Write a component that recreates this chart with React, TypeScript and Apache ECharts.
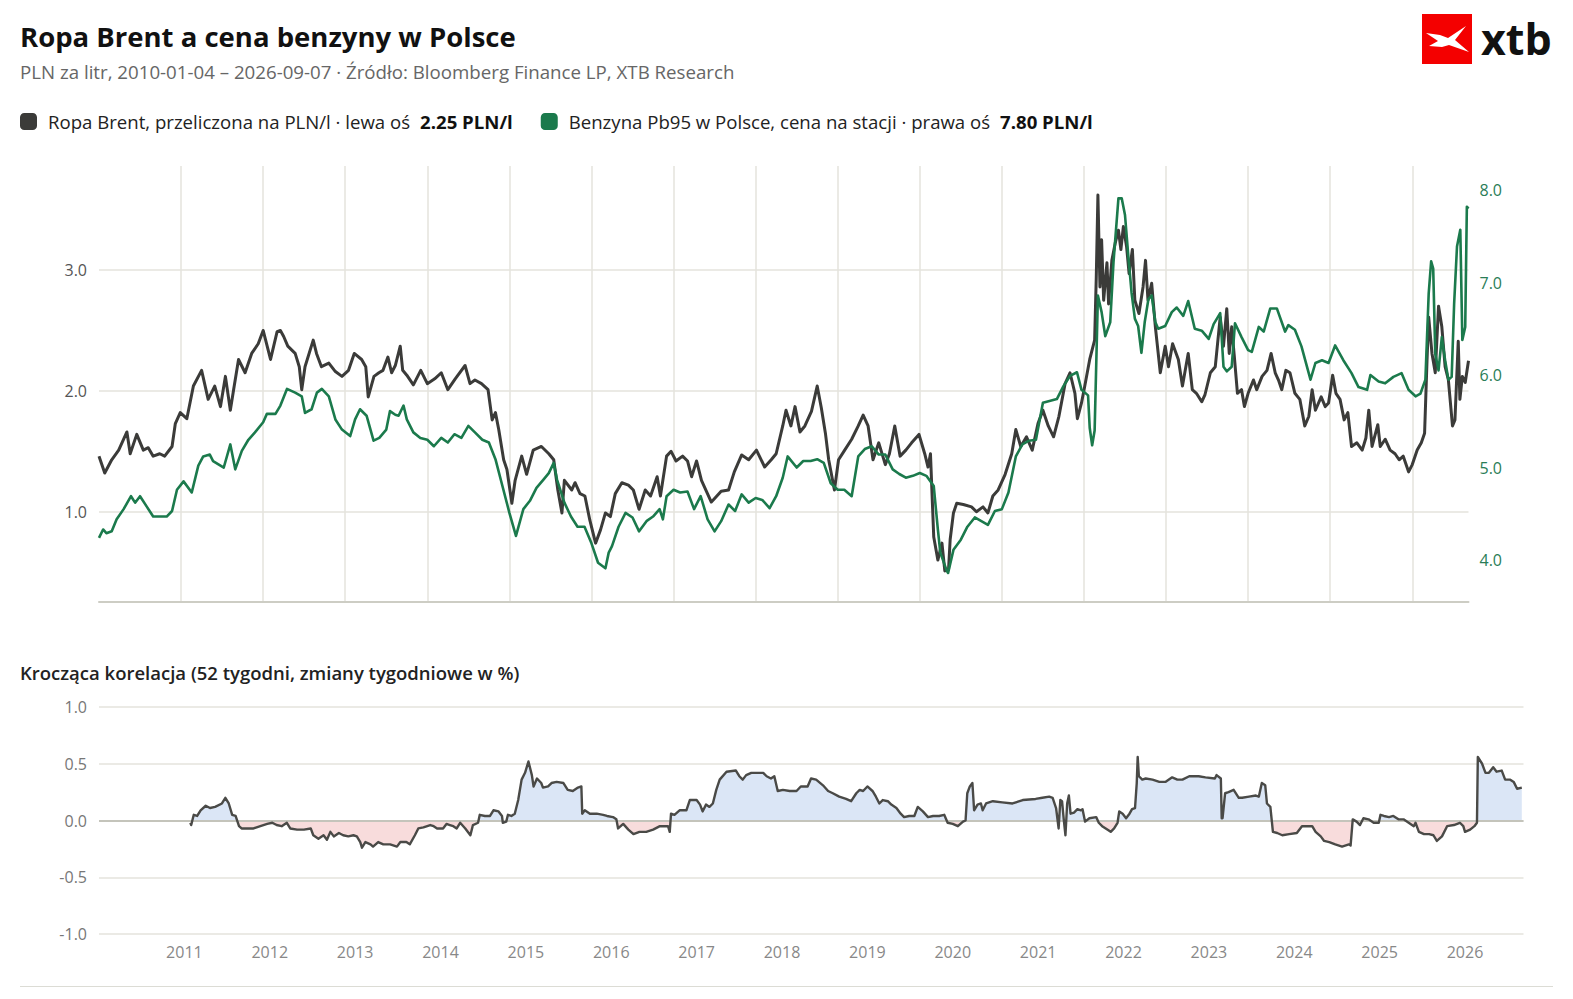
import React, { useEffect, useRef } from "react";
import * as echarts from "echarts";

type Pt = [number, number];

const FONT = "'Open Sans', 'Noto Sans', sans-serif";

const brentName = "Ropa Brent, przeliczona na PLN/l";
const pb95Name = "Benzyna Pb95 w Polsce, cena na stacji";
const titleText = "Ropa Brent a cena benzyny w Polsce";
const subtitleText = "PLN za litr, 2010-01-04 – 2026-09-07 · Źródło: Bloomberg Finance LP, XTB Research";
const corrTitle = "Krocząca korelacja (52 tygodni, zmiany tygodniowe w %)";

// x = decimal year, y = PLN per litre (left axis)
const brent: Pt[] = [
  [2010.00,1.46],[2010.07,1.32],[2010.155,1.43],[2010.24,1.51],[2010.34,1.66],[2010.38,1.48],[2010.46,1.64],[2010.54,1.51],[2010.60,1.53],[2010.66,1.46],[2010.74,1.48],[2010.80,1.46],[2010.89,1.54],[2010.93,1.73],[2010.99,1.82],
  [2011.07,1.77],[2011.15,2.04],[2011.25,2.17],[2011.33,1.93],[2011.41,2.04],[2011.48,1.87],[2011.54,2.12],[2011.60,1.84],[2011.64,2.01],[2011.70,2.26],[2011.78,2.15],[2011.86,2.31],[2011.94,2.39],
  [2012.00,2.50],[2012.09,2.26],[2012.17,2.49],[2012.21,2.50],[2012.25,2.45],[2012.30,2.37],[2012.39,2.31],[2012.44,2.20],[2012.47,2.01],[2012.51,2.20],[2012.61,2.42],[2012.65,2.31],[2012.71,2.20],[2012.80,2.23],[2012.88,2.16],[2012.96,2.12],
  [2013.04,2.17],[2013.11,2.31],[2013.20,2.26],[2013.25,2.20],[2013.28,1.95],[2013.35,2.12],[2013.41,2.15],[2013.46,2.17],[2013.52,2.28],[2013.565,2.15],[2013.61,2.21],[2013.67,2.37],[2013.70,2.17],[2013.75,2.13],[2013.83,2.05],[2013.92,2.17],
  [2014.00,2.06],[2014.09,2.10],[2014.17,2.15],[2014.25,2.01],[2014.34,2.10],[2014.46,2.21],[2014.52,2.06],[2014.58,2.09],[2014.66,2.06],[2014.74,2.01],[2014.79,1.76],[2014.83,1.82],[2014.87,1.68],[2014.93,1.43],[2014.97,1.35],
  [2015.03,1.07],[2015.07,1.26],[2015.15,1.46],[2015.21,1.31],[2015.29,1.51],[2015.39,1.54],[2015.48,1.48],[2015.54,1.43],[2015.59,1.18],[2015.64,0.99],[2015.67,1.26],[2015.76,1.18],[2015.80,1.24],[2015.86,1.15],[2015.92,1.13],[2015.98,0.93],
  [2016.05,0.74],[2016.11,0.85],[2016.17,0.99],[2016.23,0.96],[2016.29,1.15],[2016.37,1.24],[2016.45,1.22],[2016.51,1.18],[2016.58,1.02],[2016.655,1.18],[2016.72,1.13],[2016.80,1.29],[2016.84,1.13],[2016.915,1.46],[2016.97,1.50],
  [2017.03,1.42],[2017.11,1.46],[2017.17,1.42],[2017.22,1.29],[2017.28,1.42],[2017.34,1.26],[2017.46,1.08],[2017.50,1.11],[2017.58,1.17],[2017.67,1.18],[2017.74,1.33],[2017.83,1.47],[2017.915,1.43],
  [2018.01,1.51],[2018.11,1.37],[2018.19,1.43],[2018.25,1.48],[2018.33,1.71],[2018.37,1.84],[2018.43,1.71],[2018.48,1.87],[2018.54,1.66],[2018.60,1.71],[2018.68,1.83],[2018.75,2.04],[2018.80,1.86],[2018.85,1.65],[2018.89,1.43],[2018.96,1.18],
  [2019.01,1.43],[2019.085,1.51],[2019.17,1.60],[2019.25,1.71],[2019.31,1.80],[2019.37,1.71],[2019.43,1.43],[2019.50,1.57],[2019.58,1.39],[2019.63,1.48],[2019.695,1.71],[2019.76,1.46],[2019.83,1.51],[2019.90,1.57],[2019.99,1.64],
  [2020.06,1.48],[2020.10,1.37],[2020.13,1.48],[2020.17,0.79],[2020.22,0.60],[2020.27,0.74],[2020.305,0.51],[2020.35,0.52],[2020.37,0.77],[2020.41,0.99],[2020.45,1.07],[2020.53,1.06],[2020.63,1.04],[2020.69,1.00],[2020.77,1.04],[2020.83,0.99],[2020.89,1.13],[2020.955,1.18],
  [2021.04,1.31],[2021.12,1.48],[2021.17,1.68],[2021.23,1.54],[2021.30,1.62],[2021.37,1.51],[2021.44,1.73],[2021.50,1.84],[2021.565,1.71],[2021.63,1.62],[2021.695,1.79],[2021.77,2.06],[2021.83,2.15],[2021.89,1.98],[2021.92,1.77],[2021.97,1.90],
  [2022.01,2.04],[2022.07,2.26],[2022.13,2.42],[2022.15,2.94],[2022.17,3.62],[2022.195,2.86],[2022.215,3.25],[2022.24,2.75],[2022.28,3.06],[2022.30,2.72],[2022.34,3.08],[2022.38,3.22],[2022.42,3.33],[2022.45,3.17],[2022.48,3.36],[2022.52,3.19],[2022.55,2.97],[2022.59,3.17],[2022.62,2.75],[2022.67,2.64],[2022.72,2.86],[2022.75,3.08],[2022.78,2.75],[2022.825,2.89],[2022.87,2.53],[2022.93,2.15],[2022.99,2.37],
  [2023.03,2.20],[2023.08,2.39],[2023.15,2.26],[2023.20,2.04],[2023.27,2.31],[2023.32,2.01],[2023.37,1.98],[2023.435,1.91],[2023.475,1.97],[2023.54,2.15],[2023.60,2.20],[2023.66,2.61],[2023.70,2.37],[2023.74,2.68],[2023.77,2.31],[2023.80,2.53],[2023.83,2.30],[2023.87,1.98],[2023.92,2.01],[2023.955,1.87],
  [2024.00,1.98],[2024.065,2.09],[2024.105,2.01],[2024.17,2.12],[2024.23,2.17],[2024.28,2.31],[2024.33,2.15],[2024.37,2.09],[2024.41,2.01],[2024.46,2.17],[2024.51,2.15],[2024.57,1.98],[2024.63,1.93],[2024.69,1.71],[2024.74,1.79],[2024.78,2.01],[2024.82,1.84],[2024.89,1.95],[2024.94,1.87],[2024.98,1.90],
  [2025.03,2.13],[2025.07,1.98],[2025.12,1.93],[2025.17,1.76],[2025.215,1.82],[2025.26,1.54],[2025.325,1.57],[2025.39,1.51],[2025.435,1.61],[2025.47,1.84],[2025.51,1.54],[2025.58,1.72],[2025.61,1.54],[2025.67,1.60],[2025.73,1.51],[2025.79,1.48],[2025.84,1.43],[2025.89,1.46],[2025.955,1.33],
  [2026.00,1.39],[2026.06,1.51],[2026.11,1.57],[2026.15,1.65],[2026.18,2.26],[2026.20,2.61],[2026.24,2.31],[2026.28,2.15],[2026.32,2.70],[2026.36,2.53],[2026.40,2.20],[2026.44,2.09],[2026.49,1.71],[2026.52,1.76],[2026.56,2.41],[2026.58,1.93],[2026.61,2.12],[2026.645,2.07],[2026.685,2.25],
];

// x = decimal year, y = PLN per litre (right axis)
const pb95: Pt[] = [
  [2010.00,4.24],[2010.05,4.33],[2010.09,4.29],[2010.155,4.31],[2010.215,4.44],[2010.30,4.55],[2010.39,4.69],[2010.44,4.62],[2010.50,4.69],[2010.58,4.58],[2010.66,4.47],[2010.74,4.47],[2010.825,4.47],[2010.89,4.53],[2010.95,4.76],
  [2011.03,4.85],[2011.13,4.73],[2011.21,5.02],[2011.27,5.12],[2011.35,5.14],[2011.39,5.07],[2011.52,5.00],[2011.60,5.25],[2011.66,4.98],[2011.74,5.18],[2011.82,5.30],[2011.90,5.38],
  [2012.00,5.49],[2012.045,5.58],[2012.15,5.58],[2012.21,5.67],[2012.29,5.85],[2012.39,5.81],[2012.47,5.77],[2012.51,5.59],[2012.59,5.63],[2012.655,5.81],[2012.715,5.85],[2012.80,5.77],[2012.88,5.52],[2012.96,5.41],
  [2013.06,5.34],[2013.12,5.52],[2013.18,5.63],[2013.26,5.56],[2013.345,5.29],[2013.415,5.32],[2013.50,5.41],[2013.545,5.61],[2013.61,5.57],[2013.65,5.56],[2013.71,5.67],[2013.75,5.52],[2013.83,5.38],[2013.915,5.32],
  [2014.00,5.30],[2014.08,5.23],[2014.17,5.32],[2014.25,5.27],[2014.33,5.36],[2014.415,5.32],[2014.50,5.45],[2014.58,5.38],[2014.67,5.30],[2014.75,5.27],[2014.83,5.09],[2014.915,4.80],
  [2015.00,4.51],[2015.08,4.26],[2015.17,4.55],[2015.25,4.64],[2015.33,4.78],[2015.415,4.87],[2015.48,4.94],[2015.54,5.05],[2015.58,4.87],[2015.67,4.62],[2015.75,4.47],[2015.83,4.36],[2015.915,4.36],
  [2016.00,4.18],[2016.08,3.97],[2016.17,3.91],[2016.21,4.08],[2016.25,4.15],[2016.33,4.36],[2016.415,4.51],[2016.50,4.46],[2016.58,4.31],[2016.67,4.42],[2016.75,4.47],[2016.83,4.55],[2016.87,4.44],[2016.915,4.69],
  [2017.00,4.76],[2017.08,4.73],[2017.17,4.74],[2017.25,4.55],[2017.33,4.69],[2017.415,4.44],[2017.50,4.31],[2017.58,4.42],[2017.67,4.60],[2017.75,4.53],[2017.83,4.71],[2017.915,4.62],
  [2018.00,4.67],[2018.08,4.65],[2018.17,4.56],[2018.25,4.69],[2018.33,4.89],[2018.39,5.12],[2018.50,5.00],[2018.58,5.07],[2018.67,5.07],[2018.75,5.09],[2018.83,5.05],[2018.915,4.83],
  [2019.00,4.76],[2019.08,4.76],[2019.17,4.69],[2019.25,5.12],[2019.33,5.20],[2019.415,5.23],[2019.50,5.14],[2019.58,5.14],[2019.67,4.98],[2019.75,4.93],[2019.83,4.89],[2019.915,4.91],
  [2020.00,4.94],[2020.08,4.91],[2020.17,4.80],[2020.22,4.33],[2020.25,4.08],[2020.33,3.88],[2020.345,3.86],[2020.41,4.11],[2020.50,4.22],[2020.58,4.36],[2020.67,4.46],[2020.75,4.42],[2020.83,4.38],[2020.915,4.53],
  [2021.00,4.55],[2021.08,4.73],[2021.17,5.12],[2021.25,5.25],[2021.33,5.29],[2021.415,5.30],[2021.50,5.70],[2021.58,5.72],[2021.67,5.74],[2021.75,5.88],[2021.83,5.99],[2021.915,6.03],[2021.97,5.84],
  [2022.05,5.78],[2022.07,5.43],[2022.10,5.24],[2022.13,5.40],[2022.17,6.86],[2022.215,6.68],[2022.26,6.42],[2022.32,6.57],[2022.36,7.22],[2022.42,7.91],[2022.46,7.91],[2022.50,7.73],[2022.54,7.29],[2022.58,6.89],[2022.62,6.61],[2022.66,6.53],[2022.70,6.24],[2022.74,6.57],[2022.785,6.82],[2022.825,6.86],[2022.87,6.57],[2022.905,6.50],[2022.99,6.53],
  [2023.07,6.68],[2023.13,6.73],[2023.21,6.64],[2023.27,6.80],[2023.35,6.50],[2023.435,6.48],[2023.52,6.39],[2023.58,6.55],[2023.66,6.67],[2023.70,6.09],[2023.74,6.04],[2023.80,6.09],[2023.84,6.56],[2023.92,6.41],
  [2024.00,6.27],[2024.045,6.25],[2024.13,6.52],[2024.19,6.47],[2024.27,6.72],[2024.35,6.72],[2024.45,6.47],[2024.49,6.54],[2024.57,6.49],[2024.65,6.31],[2024.76,5.95],[2024.82,6.13],[2024.90,6.16],[2024.98,6.13],
  [2025.06,6.32],[2025.16,6.16],[2025.26,6.02],[2025.345,5.87],[2025.45,5.84],[2025.49,6.00],[2025.59,5.93],[2025.67,5.91],[2025.77,5.98],[2025.87,6.02],[2025.955,5.84],
  [2026.04,5.77],[2026.10,5.80],[2026.16,5.95],[2026.20,6.88],[2026.23,7.23],[2026.255,7.15],[2026.28,6.23],[2026.32,6.05],[2026.36,6.41],[2026.40,6.16],[2026.44,5.95],[2026.48,5.98],[2026.51,6.77],[2026.545,7.39],[2026.585,7.57],[2026.61,6.38],[2026.645,6.52],[2026.665,7.82],[2026.685,7.80],
];

// x = decimal year, y = rolling 52-week correlation
const corr: Pt[] = [
  [2011.07,-0.02],[2011.08,-0.04],[2011.11,0.05],[2011.15,0.04],[2011.19,0.09],[2011.25,0.13],[2011.30,0.11],[2011.36,0.12],[2011.44,0.15],[2011.48,0.20],[2011.52,0.15],[2011.56,0.05],[2011.60,0.04],[2011.64,-0.05],[2011.67,-0.07],[2011.73,-0.07],[2011.81,-0.07],[2011.89,-0.05],[2011.97,-0.03],
  [2012.03,-0.02],[2012.08,-0.04],[2012.14,-0.05],[2012.20,-0.02],[2012.24,-0.07],[2012.32,-0.08],[2012.40,-0.08],[2012.48,-0.07],[2012.51,-0.13],[2012.57,-0.16],[2012.63,-0.13],[2012.67,-0.17],[2012.71,-0.10],[2012.75,-0.14],[2012.81,-0.11],[2012.86,-0.13],[2012.92,-0.14],[2012.98,-0.13],
  [2013.02,-0.14],[2013.06,-0.19],[2013.08,-0.24],[2013.12,-0.19],[2013.18,-0.21],[2013.21,-0.23],[2013.27,-0.19],[2013.33,-0.21],[2013.41,-0.21],[2013.49,-0.23],[2013.53,-0.19],[2013.60,-0.19],[2013.64,-0.21],[2013.70,-0.13],[2013.74,-0.07],[2013.80,-0.06],[2013.88,-0.04],[2013.92,-0.05],[2013.96,-0.07],
  [2014.03,-0.07],[2014.07,-0.03],[2014.11,-0.04],[2014.15,-0.05],[2014.19,-0.07],[2014.23,-0.02],[2014.29,-0.07],[2014.35,-0.13],[2014.38,-0.04],[2014.44,-0.02],[2014.46,0.05],[2014.52,0.04],[2014.58,0.04],[2014.62,0.09],[2014.68,0.08],[2014.72,0.04],[2014.73,-0.02],[2014.77,-0.01],[2014.79,0.05],[2014.83,0.04],[2014.87,0.06],[2014.91,0.18],[2014.95,0.36],[2014.99,0.42],
  [2015.03,0.52],[2015.07,0.40],[2015.09,0.30],[2015.13,0.37],[2015.18,0.33],[2015.20,0.29],[2015.26,0.30],[2015.30,0.33],[2015.36,0.34],[2015.44,0.33],[2015.49,0.27],[2015.55,0.26],[2015.61,0.29],[2015.65,0.30],[2015.66,0.06],[2015.69,0.09],[2015.75,0.06],[2015.83,0.06],[2015.905,0.05],[2015.95,0.04],
  [2016.02,0.03],[2016.06,0.01],[2016.08,-0.07],[2016.14,-0.03],[2016.20,-0.08],[2016.26,-0.12],[2016.33,-0.10],[2016.41,-0.10],[2016.49,-0.08],[2016.57,-0.05],[2016.63,-0.05],[2016.665,-0.05],[2016.685,-0.10],[2016.70,0.06],[2016.74,0.05],[2016.80,0.09],[2016.88,0.09],[2016.92,0.18],
  [2017.00,0.18],[2017.04,0.14],[2017.07,0.08],[2017.11,0.14],[2017.15,0.12],[2017.19,0.15],[2017.23,0.27],[2017.27,0.36],[2017.35,0.43],[2017.46,0.44],[2017.50,0.39],[2017.54,0.36],[2017.58,0.40],[2017.64,0.42],[2017.70,0.42],[2017.78,0.42],[2017.82,0.39],[2017.87,0.37],[2017.91,0.39],[2017.95,0.26],
  [2018.01,0.27],[2018.09,0.26],[2018.17,0.26],[2018.22,0.30],[2018.30,0.30],[2018.34,0.37],[2018.40,0.36],[2018.48,0.31],[2018.54,0.26],[2018.595,0.24],[2018.67,0.21],[2018.75,0.19],[2018.81,0.17],[2018.87,0.24],[2018.91,0.27],[2018.95,0.26],
  [2019.00,0.30],[2019.06,0.26],[2019.10,0.21],[2019.14,0.15],[2019.18,0.18],[2019.24,0.17],[2019.28,0.14],[2019.34,0.11],[2019.39,0.06],[2019.43,0.03],[2019.49,0.04],[2019.55,0.04],[2019.59,0.12],[2019.65,0.08],[2019.71,0.03],[2019.77,0.04],[2019.84,0.04],[2019.90,0.05],[2019.94,-0.02],
  [2020.00,-0.03],[2020.06,-0.05],[2020.12,-0.01],[2020.15,0.00],[2020.17,0.24],[2020.20,0.30],[2020.23,0.33],[2020.25,0.09],[2020.29,0.14],[2020.33,0.15],[2020.35,0.09],[2020.39,0.15],[2020.47,0.17],[2020.58,0.16],[2020.70,0.15],[2020.82,0.18],[2020.97,0.19],
  [2021.05,0.20],[2021.13,0.21],[2021.17,0.20],[2021.21,0.11],[2021.24,-0.07],[2021.26,0.18],[2021.28,0.17],[2021.30,0.01],[2021.32,-0.13],[2021.34,0.15],[2021.36,0.22],[2021.38,0.06],[2021.42,0.07],[2021.46,0.10],[2021.50,0.09],[2021.52,0.10],[2021.55,-0.01],[2021.60,0.02],[2021.68,0.03],[2021.71,-0.02],[2021.75,-0.05],[2021.81,-0.08],[2021.85,-0.10],[2021.89,-0.07],[2021.93,-0.02],[2021.95,0.08],[2021.99,0.06],
  [2022.03,0.02],[2022.07,0.06],[2022.10,0.10],[2022.135,0.11],[2022.155,0.33],[2022.166,0.56],[2022.18,0.39],[2022.22,0.36],[2022.26,0.37],[2022.34,0.36],[2022.42,0.34],[2022.49,0.34],[2022.57,0.38],[2022.63,0.36],[2022.69,0.36],[2022.77,0.39],[2022.88,0.39],[2022.96,0.38],
  [2023.07,0.37],[2023.09,0.40],[2023.14,0.37],[2023.15,0.02],[2023.16,0.02],[2023.19,0.24],[2023.23,0.25],[2023.29,0.27],[2023.35,0.20],[2023.39,0.20],[2023.47,0.21],[2023.55,0.22],[2023.585,0.21],[2023.62,0.33],[2023.66,0.31],[2023.68,0.15],[2023.72,0.12],[2023.75,-0.10],[2023.80,-0.11],[2023.86,-0.13],[2023.94,-0.12],
  [2024.03,-0.11],[2024.09,-0.05],[2024.15,-0.05],[2024.21,-0.05],[2024.25,-0.10],[2024.31,-0.14],[2024.35,-0.18],[2024.41,-0.19],[2024.48,-0.21],[2024.56,-0.23],[2024.64,-0.21],[2024.66,-0.22],[2024.685,0.01],[2024.73,-0.01],[2024.77,-0.04],[2024.81,0.02],[2024.87,0.01],[2024.93,-0.02],[2024.99,-0.02],
  [2025.01,0.05],[2025.05,0.04],[2025.11,0.03],[2025.16,0.04],[2025.22,0.01],[2025.28,0.01],[2025.34,-0.02],[2025.40,-0.05],[2025.42,-0.02],[2025.46,-0.10],[2025.52,-0.12],[2025.58,-0.12],[2025.63,-0.13],[2025.67,-0.18],[2025.73,-0.14],[2025.79,-0.05],[2025.87,-0.04],[2025.94,-0.02],[2025.98,-0.05],
  [2026.00,-0.10],[2026.06,-0.08],[2026.11,-0.05],[2026.14,-0.02],[2026.15,0.56],[2026.20,0.50],[2026.24,0.42],[2026.28,0.42],[2026.33,0.47],[2026.37,0.43],[2026.43,0.44],[2026.47,0.36],[2026.53,0.36],[2026.57,0.34],[2026.61,0.28],[2026.665,0.29],
];

const xStart = 2010.0;
const xEnd = 2026.685;

const COL_BRENT = "#3b3b39";
const COL_PB95 = "#1b7a4c";
const COL_CORR = "#4a4a47";
const COL_GRID = "#e4e3dc";

// split the correlation line into its positive and negative parts for the fills
function splitBySign(data: Pt[]) {
  const pos: Pt[] = [];
  const neg: Pt[] = [];
  for (let i = 0; i < data.length; i++) {
    const [x, y] = data[i];
    if (i > 0) {
      const [px, py] = data[i - 1];
      if ((py > 0 && y < 0) || (py < 0 && y > 0)) {
        const xc = px + (x - px) * (py / (py - y));
        pos.push([xc, 0]);
        neg.push([xc, 0]);
      }
    }
    pos.push([x, Math.max(y, 0)]);
    neg.push([x, Math.min(y, 0)]);
  }
  return { pos, neg };
}

export default function App() {
  const ref = useRef<HTMLDivElement>(null);

  useEffect(() => {
    const el = ref.current;
    if (!el) return;
    const chart = echarts.init(el, undefined, { renderer: "svg" });
    const { pos, neg } = splitBySign(corr);
    const lastBrent = brent[brent.length - 1][1];
    const lastPb = pb95[pb95.length - 1][1];

    const option: any = {
      animation: false,
      backgroundColor: "#ffffff",
      textStyle: { fontFamily: FONT },
      title: [
        {
          text: titleText,
          subtext: subtitleText,
          left: 20,
          top: 21,
          padding: 0,
          itemGap: 9,
          textStyle: { fontFamily: FONT, fontSize: 27.5, fontWeight: "bold", color: "#111111", lineHeight: 30 },
          subtextStyle: { fontFamily: FONT, fontSize: 18.7, color: "#666666", lineHeight: 22 },
        },
        {
          text: corrTitle,
          left: 20,
          top: 661,
          padding: 0,
          textStyle: { fontFamily: FONT, fontSize: 18.5, fontWeight: 600, color: "#222222", lineHeight: 22 },
        },
      ],
      legend: {
        left: 20,
        top: 112,
        padding: 0,
        itemWidth: 17,
        itemHeight: 17,
        itemGap: 28,
        icon: "roundRect",
        selectedMode: false,
        data: [brentName, pb95Name],
        itemStyle: { borderWidth: 0 },
        formatter: (name: string) =>
          name === brentName
            ? `{n|${name} · lewa oś}{v|${lastBrent.toFixed(2)} PLN/l}`
            : `{n|${name} · prawa oś}{v|${lastPb.toFixed(2)} PLN/l}`,
        textStyle: {
          rich: {
            n: { fontFamily: FONT, fontSize: 18.6, color: "#222222", padding: [0, 0, 0, 6] },
            v: { fontFamily: FONT, fontSize: 18.6, fontWeight: "bold", color: "#111111", padding: [0, 0, 0, 10] },
          },
        },
      },
      grid: [
        { left: 99, right: 104.5, top: 166, height: 436 },
        { left: 99, right: 49.5, top: 707, height: 227 },
      ],
      xAxis: [
        {
          type: "value",
          gridIndex: 0,
          min: xStart,
          max: xEnd,
          splitNumber: 16,
          axisLabel: { show: false },
          axisTick: { show: false },
          axisLine: { show: true, onZero: false, lineStyle: { color: "#cdcdc4", width: 2 } },
          splitLine: { show: true, showMinLine: false, showMaxLine: false, lineStyle: { color: COL_GRID, width: 1.5 } },
        },
        {
          type: "value",
          gridIndex: 1,
          min: xStart,
          max: xEnd,
          splitNumber: 16,
          axisLabel: {
            show: true,
            showMinLabel: false,
            showMaxLabel: false,
            color: "#888888",
            fontSize: 16,
            fontFamily: FONT,
            margin: 10,
            formatter: (v: number) => String(Math.round(v)),
          },
          axisTick: { show: false },
          axisLine: { show: false, onZero: false },
          splitLine: { show: false },
        },
      ],
      yAxis: [
        {
          type: "value",
          gridIndex: 0,
          position: "left",
          min: 0.253,
          max: 3.861,
          splitNumber: 4,
          axisLabel: {
            color: "#555555",
            fontSize: 16,
            fontFamily: FONT,
            margin: 12,
            showMinLabel: false,
            showMaxLabel: false,
            formatter: (v: number) => v.toFixed(1),
          },
          axisLine: { show: false },
          axisTick: { show: false },
          splitLine: { show: true, showMinLine: false, showMaxLine: false, lineStyle: { color: COL_GRID, width: 1.5 } },
        },
        {
          type: "value",
          gridIndex: 0,
          position: "right",
          min: 3.546,
          max: 8.26,
          splitNumber: 5,
          axisLabel: {
            color: "#2a7d57",
            fontSize: 16,
            fontFamily: FONT,
            margin: 11,
            showMinLabel: false,
            showMaxLabel: false,
            formatter: (v: number) => v.toFixed(1),
          },
          axisLine: { show: false },
          axisTick: { show: false },
          splitLine: { show: false },
        },
        {
          type: "value",
          gridIndex: 1,
          min: -1,
          max: 1,
          interval: 0.5,
          axisLabel: { color: "#777777", fontSize: 16, fontFamily: FONT, margin: 12, formatter: (v: number) => v.toFixed(1) },
          axisLine: { show: false },
          axisTick: { show: false },
          splitLine: { show: true, lineStyle: { color: COL_GRID, width: 1.5 } },
        },
      ],
      series: [
        {
          name: brentName,
          type: "line",
          xAxisIndex: 0,
          yAxisIndex: 0,
          data: brent,
          showSymbol: false,
          symbol: "none",
          color: COL_BRENT,
          lineStyle: { color: COL_BRENT, width: 3, join: "round" },
          z: 3,
        },
        {
          name: pb95Name,
          type: "line",
          xAxisIndex: 0,
          yAxisIndex: 1,
          data: pb95,
          showSymbol: false,
          symbol: "none",
          color: COL_PB95,
          lineStyle: { color: COL_PB95, width: 2.6, join: "round" },
          z: 4,
        },
        {
          name: "korelacja+",
          type: "line",
          xAxisIndex: 1,
          yAxisIndex: 2,
          data: pos,
          showSymbol: false,
          symbol: "none",
          silent: true,
          lineStyle: { width: 0, opacity: 0 },
          areaStyle: { color: "#dbe6f6", opacity: 1 },
          z: 2,
          markLine: {
            silent: true,
            symbol: "none",
            label: { show: false },
            lineStyle: { color: "#c4c4bb", width: 2, type: "solid" },
            data: [{ yAxis: 0 }],
          },
        },
        {
          name: "korelacja-",
          type: "line",
          xAxisIndex: 1,
          yAxisIndex: 2,
          data: neg,
          showSymbol: false,
          symbol: "none",
          silent: true,
          lineStyle: { width: 0, opacity: 0 },
          areaStyle: { color: "#f8dcdc", opacity: 1 },
          z: 2,
        },
        {
          name: "korelacja",
          type: "line",
          xAxisIndex: 1,
          yAxisIndex: 2,
          data: corr,
          showSymbol: false,
          symbol: "none",
          lineStyle: { color: COL_CORR, width: 2.4, join: "round" },
          z: 5,
        },
      ],
      graphic: [
        { type: "rect", shape: { x: 1422, y: 14, width: 50, height: 50 }, style: { fill: "#f40000" }, z: 10 },
        {
          type: "polygon",
          shape: {
            points: [
              [1426, 33], [1440, 35], [1448, 38], [1466, 26], [1455, 40],
              [1469, 52], [1449, 45], [1442, 47], [1429, 46], [1438, 41],
            ],
          },
          style: { fill: "#ffffff" },
          z: 11,
        },
        {
          type: "text",
          x: 1481,
          y: 38,
          style: { text: "xtb", fill: "#111111", fontSize: 43, fontWeight: "bold", fontFamily: FONT, verticalAlign: "middle" },
          z: 10,
        },
        { type: "line", shape: { x1: 20, y1: 986.5, x2: 1553, y2: 986.5 }, style: { stroke: "#dcdcd5", lineWidth: 1 }, z: 1 },
      ],
    };

    chart.setOption(option);
    return () => chart.dispose();
  }, []);

  return (
    <div
      ref={ref}
      style={{ position: "fixed", left: 0, top: 0, width: "1573px", height: "999px", background: "#ffffff" }}
    />
  );
}
